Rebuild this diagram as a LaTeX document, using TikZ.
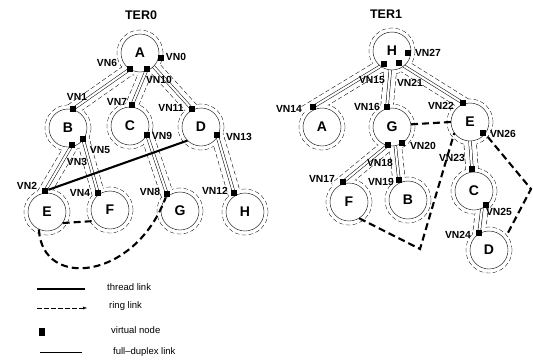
\documentclass[tikz,border=0pt]{standalone}
\usepackage{fontspec}
\setmainfont{Liberation Sans}
\usetikzlibrary{arrows.meta}

\begin{document}
\begin{tikzpicture}[x=1pt, y=-1pt,
    vertex/.style={circle, draw, fill=white, minimum size=38pt, inner sep=0pt,
                   font=\bfseries\fontsize{14}{14}\selectfont},
    ringdash/.style={dash pattern=on 4.5pt off 2.5pt},
    ringc/.style={circle, draw, ringdash, minimum size=46pt, inner sep=0pt},
    duplex/.style={double, double distance=2.2pt, line width=0.5pt},
    thread/.style={line width=2.1pt},
    threaddash/.style={thread, dash pattern=on 7pt off 4pt},
    vnode/.style={fill, minimum size=6.5pt, inner sep=0pt},
    vnlab/.style={font=\bfseries\fontsize{10.3}{10}\selectfont, inner sep=1pt},
    title/.style={font=\bfseries\fontsize{12.5}{12.5}\selectfont},
    legend/.style={font=\fontsize{9.5}{10}\selectfont, anchor=west, inner sep=0pt}]
  \useasboundingbox (0,0) rectangle (533,362);

  \node[title] (ter0) at (141,15) {TER0};
  \node[title] (ter1) at (386,14) {TER1};

  % vertex centres
  \foreach \n/\x/\y in {A0/140/53, B0/68/128, C0/130/126, D0/201/127, E0/47/212,
      F0/110/210, G0/180/211, H0/245/212, H1/392/51, A1/322/127, G1/392/127,
      E1/470/122, F1/349/202, B1/408/200, C1/474/191, D1/489/250}
    \coordinate (p\n) at (\x,\y);

  % virtual nodes
  \foreach \n/\x/\y in {0/161/58, 1/73/109, 2/45/191, 3/72/145, 4/98/193, 5/83/139,
      6/130/69, 7/132/105, 8/167/194, 9/147/135, 10/147/69, 11/192/109, 12/234/193,
      13/217/135, 14/313/107, 15/384/64, 16/387/107, 17/343/182, 18/388/145,
      19/399/180, 20/402/143, 21/399/63, 22/463/103, 23/472/169, 24/479/233,
      25/486/205, 26/483/133, 27/408/53}
    \coordinate (v\n) at (\x,\y);

  % link ends without a virtual node
  \coordinate (u0) at (153.4,66.4);
  \coordinate (u1) at (390.3,69.9);
  \coordinate (u2) at (395.3,145.7);
  \coordinate (u3) at (470,141);
  \coordinate (u4) at (482,208.2);

  % ring link: dashed outline round each tree
  \foreach \n in {A0,B0,C0,D0,E0,F0,G0,H0,H1,A1,G1,E1,F1,B1,C1,D1}
    \node[ringc] (r\n) at (p\n) {};
  \foreach \a/\b in {v6/v1, v10/v7, u0/v11, v3/v2, v5/v4, v9/v8, v13/v12,
      v15/v14, u1/v16, v21/v22, v18/v17, u2/v19, u3/v23, u4/v24}
    \draw[ringdash, line width=13pt, shorten <=-10pt, shorten >=-10pt] (\a) -- (\b);
  \foreach \n in {A0,B0,C0,D0,E0,F0,G0,H0,H1,A1,G1,E1,F1,B1,C1,D1}
    \fill[white] (p\n) circle (22.5pt);
  \foreach \a/\b in {v6/v1, v10/v7, u0/v11, v3/v2, v5/v4, v9/v8, v13/v12,
      v15/v14, u1/v16, v21/v22, v18/v17, u2/v19, u3/v23, u4/v24}
    \draw[white, line width=12pt, shorten <=-10pt, shorten >=-10pt] (\a) -- (\b);

  % full-duplex links
  \foreach \a/\b in {v6/v1, v10/v7, u0/v11, v3/v2, v5/v4, v9/v8, v13/v12,
      v15/v14, u1/v16, v21/v22, v18/v17, u2/v19, u3/v23, u4/v24}
    \draw[duplex] (\a) -- (\b);

  \foreach \n/\t in {A0/A, B0/B, C0/C, D0/D, E0/E, F0/F, G0/G, H0/H,
      H1/H, A1/A, G1/G, E1/E, F1/F, B1/B, C1/C, D1/D}
    \node[vertex] (\n) at (p\n) {\t};

  \foreach \n in {0,...,27}
    \node[vnode] (vn\n) at (v\n) {};

  \foreach \n/\x/\y in {0/176/57, 1/77/97, 2/27/186, 3/77/162, 4/80/193, 5/100/150,
      6/107/63, 7/117/102, 8/150/192, 9/162/136, 10/159/80, 11/171/108, 12/215/191,
      13/239/137, 14/289/109, 15/372/80, 16/367/107, 17/322/179, 18/380/163,
      19/381/182, 20/423/146, 21/410/83, 22/441/106, 23/452/158, 24/458/235,
      25/499/212, 26/503/134, 27/428/53}
    \node[vnlab] (lab\n) at (\x,\y) {VN\n};

  % thread links
  \coordinate (bend1) at (420,249);
  \coordinate (bend2) at (531,189);
  \draw[thread] (vn2) -- (D0.225);
  \draw[threaddash] (E0.-35) -- (F0.-145);
  \draw[threaddash] (E0.-115) .. controls (42,290) and (135,280) .. (vn8);
  \draw[threaddash] (G1.8) -- (E1.180);
  \draw[threaddash] (F1.-58) -- (bend1) -- (E1.-145);
  \draw[threaddash] (rE1.-40) -- (bend2) -- (rD1.40);

  % key
  \draw[thread] (37,289) -- (85,289);
  \draw[ringdash, -{Latex[length=4pt,width=3pt]}] (37,308) -- (87,308);
  \node[vnode, minimum height=8pt] (key) at (42,332) {};
  \draw (40,352) -- (82,352);
  \node[legend] (k1) at (107,287) {thread link};
  \node[legend] (k2) at (109,306) {ring link};
  \node[legend] (k3) at (111,330) {virtual node};
  \node[legend] (k4) at (113,352) {full--duplex link};
\end{tikzpicture}
\end{document}
